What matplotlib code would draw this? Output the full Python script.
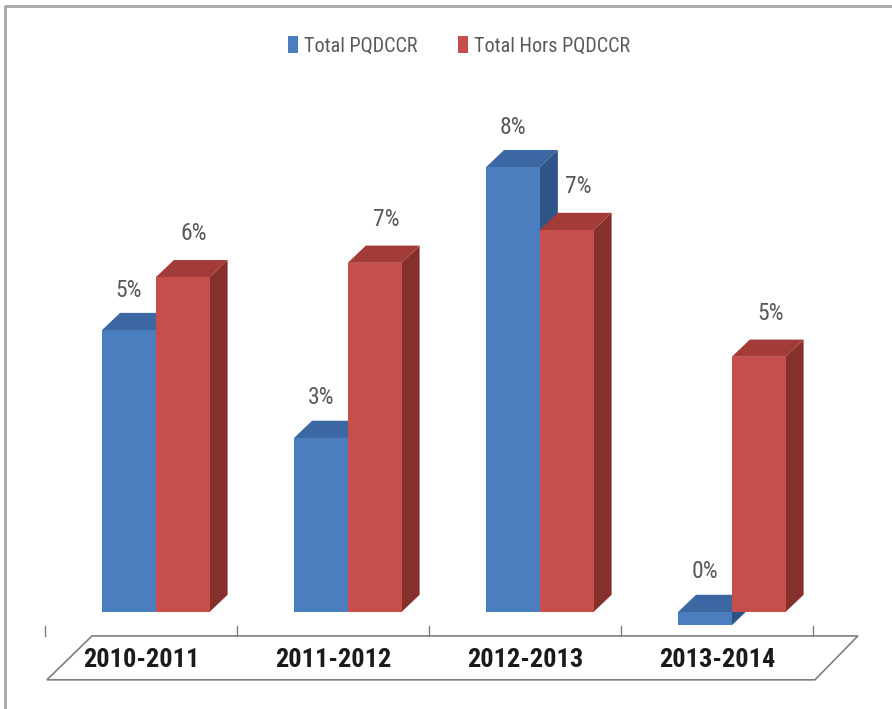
import matplotlib.pyplot as plt
from matplotlib import font_manager
from matplotlib.patches import Polygon, Patch
from matplotlib.lines import Line2D

# Data
periods = ['2010-2011', '2011-2012', '2012-2013', '2013-2014']
total_pqdccr = [5.07, 3.13, 8.0, 0.0]
total_hors_pqdccr = [6.02, 6.28, 6.87, 4.59]
labels_pqdccr = ['5%', '3%', '8%', '0%']
labels_hors = ['6%', '7%', '7%', '5%']
series_names = ['Total PQDCCR', 'Total Hors PQDCCR']

# pick a narrow font if one is around (the original uses Calibri)
fonts = font_manager.fontManager.ttflist
names = {f.name for f in fonts}
stretch = 'normal'
family = 'Roboto' if 'Roboto' in names else 'DejaVu Sans'
for cand in ['Liberation Sans Narrow', 'Roboto Condensed', 'Open Sans Condensed']:
    if cand in names:
        family = cand
        break
else:
    if any(f.name == 'DejaVu Sans' and str(f.stretch) in ('condensed', 'semi-condensed') for f in fonts):
        family, stretch = 'DejaVu Sans', 'condensed'
plt.rcParams['font.family'] = [family, 'DejaVu Sans']
plt.rcParams['font.stretch'] = stretch

# colours: front / top / side
blue = ('#4a7ebf', '#3b67a3', '#2f5487')
red = ('#c64f4b', '#a33b38', '#86302d')

# geometry (data units: 1 category on x, 1 percent on y)
bar_w = 0.28
dx, dy = 0.094, 0.31
slab = 0.24

fig = plt.figure(figsize=(8.92, 7.09), dpi=100)
ax = fig.add_axes([45 / 892, 97 / 709, 768 / 892, 500.4 / 709])
ax.set_xlim(-0.5, 3.5)
ax.set_ylim(0, 9)
ax.axis('off')

# grey frame, only top and left edges show
fig.lines.append(Line2D([5 / 892, 5 / 892, 1], [0, 1 - 6 / 709, 1 - 6 / 709],
                        transform=fig.transFigure, color='#a6a6a6', lw=2))


def bar3d(x0, h, cols, z):
    bottom = -slab if h == 0 else 0
    top = h
    x1 = x0 + bar_w
    side = Polygon([(x1, bottom), (x1 + dx, bottom + dy), (x1 + dx, top + dy), (x1, top)],
                   closed=True, facecolor=cols[2], edgecolor='none', zorder=z, clip_on=False)
    lid = Polygon([(x0, top), (x1, top), (x1 + dx, top + dy), (x0 + dx, top + dy)],
                  closed=True, facecolor=cols[1], edgecolor='none', zorder=z, clip_on=False)
    ax.add_patch(side)
    ax.add_patch(lid)
    ax.bar(x0, top - bottom, bottom=bottom, width=bar_w, align='edge',
           color=cols[0], zorder=z + 0.1, clip_on=False)


for i in range(len(periods)):
    xb = i - 0.203
    xr = i + 0.077
    bar3d(xb, total_pqdccr[i], blue, 2)
    bar3d(xr, total_hors_pqdccr[i], red, 3)
    ax.text(xb + bar_w / 2, total_pqdccr[i] + 0.72, labels_pqdccr[i],
            ha='center', va='center', fontsize=17, color='#595959')
    ax.text(xr + bar_w / 2 + 0.06, total_hors_pqdccr[i] + 0.78, labels_hors[i],
            ha='center', va='center', fontsize=17, color='#595959')

# slanted floor with the category labels
y_line, y_low = -0.43, -1.22
floor = Polygon([(-0.255, y_line), (3.734, y_line), (3.51, y_low), (-0.49, y_low)],
                closed=True, facecolor='white', edgecolor='#7f7f7f', linewidth=1.2,
                clip_on=False, zorder=1)
ax.add_patch(floor)
for b in [-0.5, 0.5, 1.5, 2.5, 3.5]:
    ax.plot([b, b], [y_line, y_line + 0.18], color='#7f7f7f', lw=1, clip_on=False)
for i, p in enumerate(periods):
    ax.text(i, -0.86, p, ha='center', va='center', fontsize=19,
            fontweight='bold', color='#1a1a1a')

handles = [Patch(facecolor=blue[0]), Patch(facecolor=red[0])]
fig.legend(handles, series_names, loc='center', bbox_to_anchor=(0.515, 1 - 46 / 709),
           ncol=2, frameon=False, fontsize=14.5, labelcolor='#595959',
           handlelength=0.5, handleheight=0.9, handletextpad=0.3, columnspacing=2.0)

fig.savefig('out.png', dpi=100)
